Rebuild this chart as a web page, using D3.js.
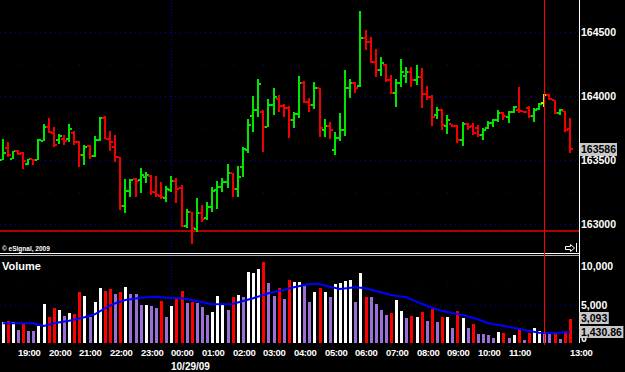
<!DOCTYPE html>
<html>
<head>
<meta charset="utf-8">
<script src="https://cdn.jsdelivr.net/npm/d3@7"></script>
<style>
body{margin:0;background:#000;}
svg{display:block;}
text{font-family:"Liberation Sans",Arial,sans-serif;font-weight:bold;fill:#fff;}
</style>
</head>
<body>
<svg id="chart" width="625" height="372"></svg>
<script>
// 10 minute bars, 18:30 10/28/09 .. 13:00 10/29/09
var startTime = new Date(2009, 9, 28, 18, 30);
var barMinutes = 10;

var opens = [163500,163594,163510,163570,163555,163471,163505,163500,163648,163758,
163713,163654,163666,163666,163713,163641,163541,163607,163529,163654,
163828,163662,163602,163521,163141,163260,163349,163344,163365,163375,
163252,163219,163201,163266,163336,163279,162984,163091,162959,163088,
163045,163135,163266,163287,163330,163396,163273,163443,163578,163844,
163891,163875,163758,163930,163977,163922,163906,163813,163859,164102,
163953,163930,164063,163734,163766,163578,163672,163734,164063,164102,
164078,164453,164422,164266,164203,164242,164125,164023,164102,164156,
164188,164125,164148,164016,163992,163852,163891,163766,163781,163766,
163656,163781,163766,163750,163695,163750,163789,163813,163867,163836,
163875,163891,163883,163906,163844,163898,163945,164008,163969,163867,
163883,163742];
var highs = [163664,163641,163570,163580,163562,163510,163510,163662,163779,163828,
163758,163705,163698,163779,163727,163648,163615,163615,163688,163836,
163844,163727,163698,163521,163349,163349,163357,163440,163404,163383,
163375,163330,163299,163375,163357,163305,163115,163091,163201,163148,
163170,163287,163338,163357,163469,163401,163453,163604,163820,164000,
164133,163891,163977,164063,164008,163938,163922,163875,164156,164117,
163984,164109,164063,163820,163797,163719,163867,164203,164133,164109,
164664,164516,164461,164367,164305,164250,164164,164133,164289,164227,
164227,164242,164219,164078,164008,163914,163898,163852,163781,163773,
163797,163789,163789,163773,163750,163805,163820,163891,163875,163883,
163922,164070,163883,163922,163906,163945,164016,164016,163969,163898,
163883,163828];
var lows = [163500,163523,163508,163541,163430,163463,163463,163498,163646,163713,
163602,163627,163615,163641,163615,163445,163463,163510,163523,163646,
163662,163568,163484,163109,163088,163209,163213,163245,163318,163227,
163213,163193,163174,163252,163162,162974,162966,162844,162940,163018,
163031,163096,163117,163248,163279,163213,163213,163370,163555,163719,
163836,163562,163758,163852,163875,163836,163672,163750,163828,163945,
163875,163898,163680,163680,163664,163539,163648,163688,163984,164023,
164070,164359,164258,164148,164156,164109,164016,163914,164070,164102,
164070,164086,163906,163969,163766,163820,163734,163703,163758,163633,
163609,163734,163695,163680,163656,163742,163758,163797,163813,163789,
163867,163867,163867,163828,163797,163891,163914,163969,163859,163852,
163719,163555];
var closes = [163557,163541,163568,163549,163490,163505,163498,163654,163758,163719,
163615,163685,163646,163740,163641,163541,163602,163529,163654,163828,
163662,163641,163521,163141,163260,163344,163338,163383,163383,163252,
163227,163209,163271,163336,163271,162984,163096,162966,163088,163037,
163135,163260,163291,163330,163401,163273,163370,163586,163773,163891,
164094,163758,163930,163992,163922,163906,163813,163859,164102,163953,
163930,164063,163750,163766,163734,163672,163734,164063,164102,164063,
164453,164422,164266,164203,164258,164125,164023,164102,164188,164188,
164125,164148,164016,163992,163836,163891,163773,163813,163766,163656,
163781,163758,163711,163695,163734,163789,163813,163867,163844,163875,
163914,163883,163875,163844,163891,163938,164008,163977,163867,163891,
163734,163586];
var volumes = [2688,2857,2766,1688,2429,1558,1558,2208,5065,3416,
4584,4286,3506,3935,3766,6662,6104,3416,5364,7104,
6792,7013,6364,6584,7234,6364,6364,4935,4935,4844,
4584,5494,3338,4844,5675,6792,5234,5364,5234,4714,
3636,4065,6104,4935,4286,6013,6234,5935,9182,9052,
9610,10558,7753,6104,7104,5675,8182,7883,7883,7403,
5286,6584,7104,6584,6013,7662,7831,8091,8182,5286,
9130,6013,6013,5065,4286,3636,3857,5584,4156,3247,
3506,3338,4065,2857,4416,2688,3338,3416,1909,4195,
3286,1909,2468,1130,1130,1039,688,1390,1260,688,
1039,1987,390,1338,1987,1558,1468,1169,1468,519,
1558,3093];
// volume bar tone: w = up, r = down, p = lighter volume
var volTone = "wrwprppwwr" + "rwpwrrwpww" + "rrprwpppwp" + "prpwrrprpp" + "pwwwprwpww" +
              "wrpprprwwp" + "pwrwpwwwwp" + "wrpppprwwp" + "rwrprprwpr" + "wprppppwrp" + "wrprwwpprprr";

// volume moving average, read at these bars
var maBars = [0,6,8,10,13,16,18,20,22,24,27,30,32,35,37,40,41,45,47,49,52,54,57,60,62,64,66,69,71,74,76,79,81,84,86,90,93,95,99,102,105,108,111];
var maValues = [2558,2558,2208,2558,2896,3338,3727,4506,5156,5584,5883,6013,5883,5805,5584,5156,5026,5065,5455,5805,6455,6753,7234,7662,7662,7312,7013,7234,7104,6584,6234,5935,5364,4584,4156,3636,3078,2558,2117,1688,1338,1260,1430.86];

var priceTicks = [163000,163500,164000,164500];
var priceMinor = [163250,163750,164250];
var volTicks = [0,5000,10000];
var hourLabels = ["19:00","20:00","21:00","22:00","23:00","00:00","01:00","02:00","03:00","04:00","05:00","06:00","07:00","08:00","09:00","10:00","11:00","13:00"];
var dateLabel = "10/29/09";
var lastVolume = 3093, lastAverage = 1430.86;
var cursorBar = 106;
var stopLevel = 162945;

var W = 625, H = 372;
var svg = d3.select("#chart");
svg.append("rect").attr("width", W).attr("height", H).attr("fill", "#000");

function barTime(i){ return new Date(+startTime + i*barMinutes*60000); }
function hourTime(s){
    var h = +s.slice(0,2);
    return new Date(2009, 9, h >= 18 ? 28 : 29, h, 0);
}
var bars = d3.range(opens.length).map(function(i){
    return {i:i, t:barTime(i), o:opens[i], h:highs[i], l:lows[i], c:closes[i], v:volumes[i], tone:volTone[i]};
});

var x = d3.scaleTime().domain([startTime, barTime(bars.length-1)]).range([2.7, 569.9]);
var yP = d3.scaleLinear().domain([163000, 164500]).range([224, 32]);
var yV = d3.scaleLinear().domain([0, 10000]).range([343, 266]);
var right = 579, volBottom = 342;
function X(t){ return Math.round(x(t)); }

var allHours = d3.timeHour.range(hourTime("19:00"), d3.timeMinute.offset(barTime(bars.length-1), 1));

// grid, price panel
var grid = svg.append("g");
grid.selectAll(".pg").data(priceTicks).enter().append("line")
    .attr("x1", 0).attr("x2", right).attr("y1", function(d){ return Math.round(yP(d))+0.5; })
    .attr("y2", function(d){ return Math.round(yP(d))+0.5; })
    .attr("stroke", "#0000b0").attr("stroke-dasharray", "1,4");
priceMinor.forEach(function(p){
    grid.selectAll(null).data(allHours).enter().append("rect")
        .attr("x", function(d){ return X(d); }).attr("y", Math.round(yP(p)))
        .attr("width", 1).attr("height", 1).attr("fill", "#0000b0");
});
// volume panel grid
grid.append("line").attr("x1", 0).attr("x2", right)
    .attr("y1", Math.round(yV(5000))+0.5).attr("y2", Math.round(yV(5000))+0.5)
    .attr("stroke", "#0000b0").attr("stroke-dasharray", "1,4");
grid.selectAll(null).data(allHours).enter().append("rect")
    .attr("x", function(d){ return X(d); }).attr("y", Math.round(yV(7500)))
    .attr("width", 1).attr("height", 1).attr("fill", "#0000b0");
// day separator
grid.append("line").attr("x1", X(hourTime("00:00"))+0.5).attr("x2", X(hourTime("00:00"))+0.5)
    .attr("y1", 0).attr("y2", 343).attr("stroke", "#0000b0").attr("stroke-dasharray", "1,2");

// horizontal stop line
svg.append("rect").attr("x", 0).attr("width", right).attr("y", Math.round(yP(stopLevel))-1)
    .attr("height", 2).attr("fill", "#b00000");

// price bars
var pb = svg.append("g").selectAll("g").data(bars).enter().append("g")
    .attr("fill", function(d){
        if (d.i === cursorBar) return "#c8f000";
        return d.c >= d.o ? "#00e600" : "#f00000";
    });
pb.append("rect").attr("x", function(d){ return X(d.t)-1; }).attr("width", 2)
    .attr("y", function(d){ return Math.round(yP(d.h)); })
    .attr("height", function(d){ return Math.max(2, Math.round(yP(d.l)) - Math.round(yP(d.h))); });
pb.append("rect").attr("x", function(d){ return X(d.t)-3; }).attr("width", 2)
    .attr("y", function(d){ return Math.round(yP(d.o))-1; }).attr("height", 2);
pb.append("rect").attr("x", function(d){ return X(d.t)+1; }).attr("width", 2)
    .attr("y", function(d){ return Math.round(yP(d.c))-1; }).attr("height", 2);

// volume bars
var toneColor = {w:"#ffffff", r:"#ff0000", p:"#9a70d8"};
svg.append("g").selectAll("rect").data(bars).enter().append("rect")
    .attr("x", function(d){ return X(d.t)-1; }).attr("width", 3)
    .attr("y", function(d){ return Math.round(yV(d.v)); })
    .attr("height", function(d){ return yV(0) - Math.round(yV(d.v)); })
    .attr("fill", function(d){ return toneColor[d.tone]; });

// volume average
var ma = maBars.map(function(b, k){ return {t:barTime(b), v:maValues[k]}; });
svg.append("path").datum(ma)
    .attr("d", d3.line().x(function(d){ return x(d.t); }).y(function(d){ return yV(d.v); }))
    .attr("fill", "none").attr("stroke", "#0000ff").attr("stroke-width", 2);

// panel separator
svg.append("rect").attr("x", 0).attr("y", 253).attr("width", right).attr("height", 1).attr("fill", "#ffffff");
svg.append("rect").attr("x", 0).attr("y", 255).attr("width", right).attr("height", 1).attr("fill", "#b0b0b0");

// cursor
svg.append("rect").attr("x", X(barTime(cursorBar))).attr("y", 0).attr("width", 1).attr("height", 345).attr("fill", "#ff0000");

// right axis line
svg.append("rect").attr("x", right).attr("y", 0).attr("width", 1).attr("height", 343).attr("fill", "#ffffff");

// price labels
var ax = svg.append("g").attr("font-size", "10.5px");
ax.selectAll(".pl").data(priceTicks).enter().append("text")
    .attr("x", 581).attr("y", function(d){ return Math.round(yP(d)) + 4; })
    .text(function(d){ return d3.format("d")(d); });
var last = closes[closes.length-1];
ax.append("rect").attr("x", 580).attr("y", Math.round(yP(last))-6).attr("width", 37).attr("height", 13).attr("fill", "#c8c8c8");
ax.append("text").attr("x", 581).attr("y", Math.round(yP(last))+4).style("fill", "#000").text(d3.format("d")(last));

// volume labels (clamped inside the panel)
ax.selectAll(".vl").data(volTicks).enter().append("text")
    .attr("x", 581).attr("y", function(d){ return Math.min(Math.round(yV(d)) + 4, volBottom); })
    .text(function(d){ return d3.format(",")(d); });
[[lastVolume, d3.format(",")(lastVolume), -1], [lastAverage, d3.format(",.2f")(lastAverage), 0]].forEach(function(p){
    var yy = Math.round(yV(p[0])) + p[2];
    var t = ax.append("text").attr("x", 581).attr("y", yy + 4).style("fill", "#000").text(p[1]);
    var w = t.node().getComputedTextLength();
    ax.insert("rect", function(){ return t.node(); }).attr("x", 579.5).attr("y", yy - 6)
        .attr("width", w + 3).attr("height", 12).attr("fill", "#c8c8c8");
});

// time labels
var tl = svg.append("g").attr("font-size", "9.5px").attr("letter-spacing", "-0.4px");
tl.selectAll("text").data(hourLabels).enter().append("text")
    .attr("x", function(d){ return X(hourTime(d)); }).attr("y", 356)
    .text(function(d){ return d; });
svg.append("text").attr("x", X(hourTime("00:00"))).attr("y", 370).attr("font-size", "10px").text(dateLabel);

// panel titles
svg.append("text").attr("x", 2).attr("y", 270).attr("font-size", "11px").text("Volume");
svg.append("text").attr("x", 2).attr("y", 251).attr("font-size", "6.5px").text("\u00a9 eSignal, 2009");

// scroll marker
var sm = svg.append("g").attr("transform", "translate(565,244)");
sm.append("path").attr("d", "M0.5,2.5 h5 v-2 l4,3.5 l-4,3.5 v-2 h-5 z").attr("fill", "#000").attr("stroke", "#fff");
sm.append("rect").attr("x", 11).attr("y", -1).attr("width", 1).attr("height", 9).attr("fill", "#fff");
</script>
</body>
</html>
